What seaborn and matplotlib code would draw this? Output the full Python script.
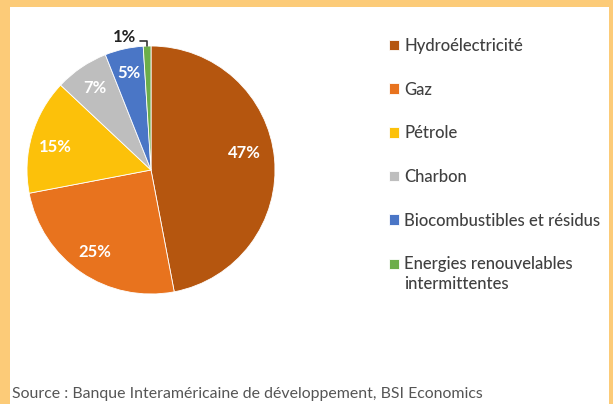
import seaborn as sns
import matplotlib.pyplot as plt
from matplotlib.patches import Rectangle
import numpy as np

sources = ['Hydroélectricité', 'Gaz', 'Pétrole', 'Charbon',
           'Biocombustibles et résidus', 'Energies renouvelables\nintermittentes']
parts = [47, 25, 15, 7, 5, 1]
couleurs = ['#B5560F', '#E8731E', '#FCC10A', '#BEBEBE', '#4A76C6', '#6CAE4A']
source_txt = 'Source : Banque Interaméricaine de développement, BSI Economics'

sns.set_theme(style='white')
plt.rcParams['font.family'] = ['Lato', 'DejaVu Sans']

W, H = 613, 404
fig = plt.figure(figsize=(W / 100, H / 100), dpi=100, facecolor='#FCCB78')
# cadre blanc dans la bordure orange
fig.patches.append(Rectangle((10 / W, 0), (609 - 10) / W, (H - 7) / H,
                             transform=fig.transFigure, facecolor='white',
                             edgecolor='none', zorder=-5))

cx, cy, r = 151, 170, 124
ax = fig.add_axes([(cx - r) / W, 1 - (cy + r) / H, 2 * r / W, 2 * r / H])
ax.set_facecolor('none')
ax.set_zorder(2)

wedges, _, pcts = ax.pie(parts, colors=couleurs, startangle=90, counterclock=False,
                         autopct='%d%%', pctdistance=0.8,
                         wedgeprops=dict(linewidth=0.6, edgecolor='white'),
                         textprops=dict(color='white', fontsize=12, fontweight='bold'))
ax.set_xlim(-1, 1)
ax.set_ylim(-1, 1)

# étiquettes placées comme dans Excel
pcts[0].set_position((0.75, 0.14))
pcts[2].set_position((-0.77, 0.185))

# le 1% est placé dehors avec un petit trait
w = wedges[-1]
theta = np.deg2rad((w.theta1 + w.theta2) / 2)
pcts[-1].set_visible(False)
ax.text(-0.21, 1.07, '1%', ha='center', va='center', fontsize=12,
        fontweight='bold', color='#222222', clip_on=False)
ax.annotate('', xy=(np.cos(theta), np.sin(theta)), xytext=(-0.09, 1.04),
            annotation_clip=False,
            arrowprops=dict(arrowstyle='-', color='#333333', lw=1.2,
                            shrinkA=0, shrinkB=0,
                            connectionstyle='angle,angleA=0,angleB=90,rad=0'))

leg = fig.legend(wedges, sources, loc='upper left',
                 bbox_to_anchor=(389 / W, 1 - 38 / H), frameon=False,
                 borderpad=0, borderaxespad=0,
                 fontsize=12, handlelength=0.6, handleheight=0.6,
                 handletextpad=0.3, labelspacing=1.66, labelcolor='#404040')
for t in leg.get_texts():
    t.set_linespacing(1.25)
    t.set_fontweight('medium')
# carré du dernier élément aligné sur la première ligne
h = leg.legend_handles[-1]
h.set_y(h.get_y() + 7.5)

fig.text(12 / W, 1 - 394 / H, source_txt, fontsize=11.4, color='#555555',
         va='center', ha='left')

fig.savefig('out.png', dpi=100, facecolor=fig.get_facecolor())
